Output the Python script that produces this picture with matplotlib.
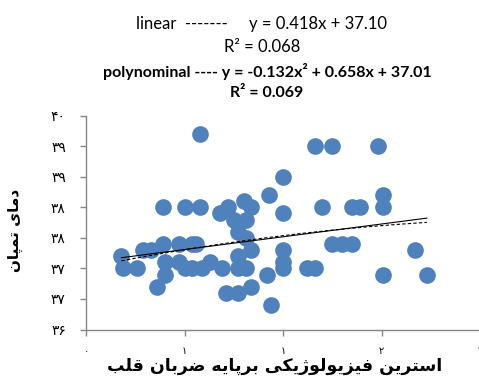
import numpy as np
import matplotlib
matplotlib.use('Agg')
import matplotlib.pyplot as plt
from matplotlib.ticker import FixedLocator, FuncFormatter


# strain index (x) vs tympanic temperature (y)
strain = [0.58, 0.39, 0.50, 0.58, 0.68, 0.72, 0.80, 0.84, 0.93, 1.00,
          1.00, 0.75, 0.81, 0.77, 0.81, 0.18, 0.29, 0.33, 0.39, 0.47,
          0.54, 0.56, 0.84, 0.77, 1.00, 1.00, 0.19, 0.26, 0.40, 0.40,
          0.47, 0.50, 0.54, 0.59, 0.63, 0.69, 0.77, 0.81, 0.92, 1.00,
          0.36, 0.71, 0.77, 0.84, 0.94, 1.16, 1.25, 1.48, 1.51, 1.51,
          1.20, 1.35, 1.39, 1.25, 1.30, 1.35, 1.67, 1.12, 1.16, 1.51,
          1.73]
temp = [39.2, 38.0, 38.0, 38.0, 37.9, 38.0, 38.1, 38.0, 38.2, 38.5,
        37.9, 37.8, 37.8, 37.6, 37.5, 37.2, 37.3, 37.3, 37.4, 37.4,
        37.4, 37.4, 37.3, 37.2, 37.3, 37.1, 37.0, 37.0, 37.1, 36.9,
        37.1, 37.0, 37.0, 37.0, 37.1, 37.0, 37.0, 37.0, 36.9, 37.0,
        36.7, 36.6, 36.6, 36.7, 36.4, 39.0, 39.0, 39.0, 38.2, 38.0,
        38.0, 38.0, 38.0, 37.4, 37.4, 37.4, 37.3, 37.0, 37.0, 36.9,
        36.9]

lin_coef = [0.418, 37.10]
poly_coef = [-0.132, 0.658, 37.01]

y_ticks = [36.0, 36.5, 37.0, 37.5, 38.0, 38.5, 39.0, 39.5]
x_ticks = [0.0, 0.5, 1.0, 1.5, 2.0]

y_title = 'دمای تمپان'
x_title = 'استرین فیزیولوژیکی برپایه ضربان قلب'

header = [
    ('linear  -------     y = 0.418x + 37.10', 'normal'),
    ('R² = 0.068', 'normal'),
    ('polynominal ---- y = -0.132x² + 0.658x + 37.01', 'bold'),
    ('R² = 0.069', 'bold'),
]

# isolated, final, initial, medial
FORMS = {
    'ا': ('\uFE8D', '\uFE8E', None, None),
    'ب': ('\uFE8F', '\uFE90', '\uFE91', '\uFE92'),
    'پ': ('\uFB56', '\uFB57', '\uFB58', '\uFB59'),
    'ت': ('\uFE95', '\uFE96', '\uFE97', '\uFE98'),
    'د': ('\uFEA9', '\uFEAA', None, None),
    'ر': ('\uFEAD', '\uFEAE', None, None),
    'ز': ('\uFEAF', '\uFEB0', None, None),
    'ژ': ('\uFB8A', '\uFB8B', None, None),
    'س': ('\uFEB1', '\uFEB2', '\uFEB3', '\uFEB4'),
    'ض': ('\uFEBD', '\uFEBE', '\uFEBF', '\uFEC0'),
    'ف': ('\uFED1', '\uFED2', '\uFED3', '\uFED4'),
    'ق': ('\uFED5', '\uFED6', '\uFED7', '\uFED8'),
    'ک': ('\uFB8E', '\uFB8F', '\uFB90', '\uFB91'),
    'ل': ('\uFEDD', '\uFEDE', '\uFEDF', '\uFEE0'),
    'م': ('\uFEE1', '\uFEE2', '\uFEE3', '\uFEE4'),
    'ن': ('\uFEE5', '\uFEE6', '\uFEE7', '\uFEE8'),
    'ه': ('\uFEE9', '\uFEEA', '\uFEEB', '\uFEEC'),
    'و': ('\uFEED', '\uFEEE', None, None),
    'ی': ('\uFBFC', '\uFBFD', '\uFBFE', '\uFBFF'),
}


def shape(text):
    # matplotlib does no arabic shaping, so pick the joined forms by hand
    out = []
    for i, ch in enumerate(text):
        if ch not in FORMS:
            out.append(ch)
            continue
        iso, fin, ini, med = FORMS[ch]
        prev = text[i - 1] if i > 0 else ''
        nxt = text[i + 1] if i + 1 < len(text) else ''
        join_prev = prev in FORMS and FORMS[prev][2] is not None
        join_next = ini is not None and nxt in FORMS
        if join_prev and join_next:
            out.append(med)
        elif join_prev:
            out.append(fin)
        elif join_next:
            out.append(ini)
        else:
            out.append(iso)
    return ''.join(reversed(out))


def fa_digits(v, pos=None):
    s = str(int(np.floor(v + 0.5)))
    return s.translate(str.maketrans('0123456789', '۰۱۲۳۴۵۶۷۸۹'))


W, H = 479, 381
fig = plt.figure(figsize=(W / 100, H / 100), dpi=100)
ax = fig.add_axes([86 / W, 51.5 / H, 394 / W, 213.8 / H])

ax.scatter(strain, temp, s=144, color='#4F81BD', linewidths=0, zorder=2)

xs = np.linspace(min(strain), max(strain), 100)
ax.plot(xs, np.polyval(lin_coef, xs), color='black', lw=0.8, zorder=3)
ax.plot(xs, np.polyval(poly_coef, xs), color='black', lw=0.8,
        linestyle=(0, (3, 2)), zorder=3)

ax.set_xlim(0, 2)
ax.set_ylim(36, 39.5)
ax.yaxis.set_major_locator(FixedLocator(y_ticks))
ax.xaxis.set_major_locator(FixedLocator(x_ticks))
ax.yaxis.set_major_formatter(FuncFormatter(fa_digits))
ax.xaxis.set_major_formatter(FuncFormatter(fa_digits))

for side in ('top', 'right'):
    ax.spines[side].set_visible(False)
for side in ('left', 'bottom'):
    ax.spines[side].set_color('#868686')
    ax.spines[side].set_linewidth(1.0)
ax.tick_params(axis='y', direction='out', length=4.5, width=1.0,
               color='#868686', pad=10, labelsize=10)
ax.tick_params(axis='x', direction='out', length=4, width=1.0,
               color='#868686', pad=8, labelsize=7)
for lab in ax.get_xticklabels() + ax.get_yticklabels():
    lab.set_fontfamily('DejaVu Sans')

fig.text(15 / W, 1 - 230 / H, shape(y_title), rotation=90, ha='center',
         va='center', fontsize=11, fontweight='bold', family='DejaVu Sans')
fig.text(275 / W, 1 - 366 / H, shape(x_title), ha='center', va='center',
         fontsize=12.5, fontweight='bold', family='DejaVu Sans')

header_y = [24, 47, 72, 93]
header_x = [261, 262, 267, 267]
for (txt, weight), hx, hy in zip(header, header_x, header_y):
    fig.text(hx / W, 1 - hy / H, txt, ha='center', va='center',
             fontsize=12 if weight == 'normal' else 11.5,
             fontweight=weight, family='Lato')

fig.savefig('out.png', dpi=100)
